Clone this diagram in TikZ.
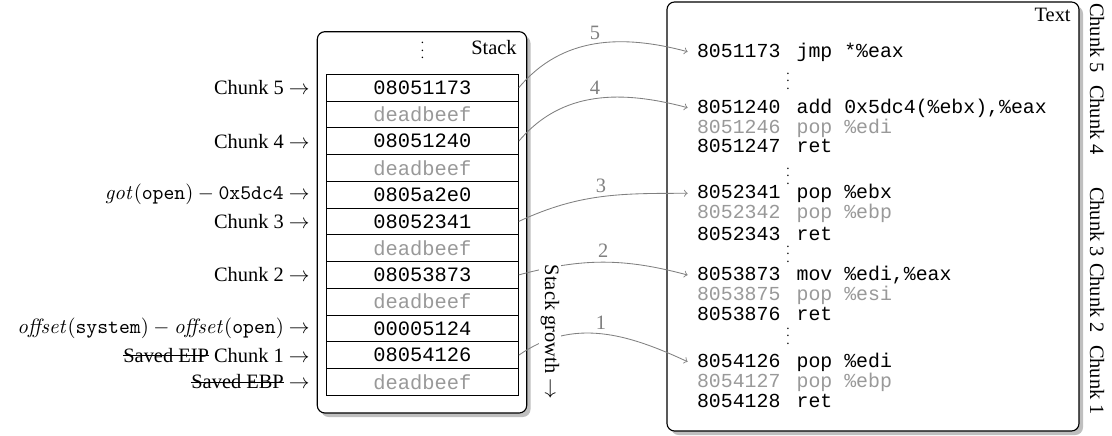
\documentclass[tikz,border=0pt]{standalone}
\usepackage[no-math]{fontspec}
\setmainfont{Liberation Serif}
\newfontfamily\cour{Liberation Mono}
\newcommand\mystrike[1]{\setbox0\hbox{#1}\rlap{\rule[0.32em]{\wd0}{0.45pt}}\box0\relax}
\newcommand\cgap{\hspace{8.6pt}}
\newcommand\myvdots{\vbox{\baselineskip4pt\lineskiplimit0pt\hbox{.}\hbox{.}\hbox{.}}}
\usetikzlibrary{arrows.meta}
\begin{document}
\begin{tikzpicture}[x=0.529pt,y=0.529pt,
  every node/.append style={font=\fontsize{10.8}{13}\selectfont},
  cell/.style={draw=black, line width=0.5pt, minimum width=101.4pt, minimum height=14.15pt, inner sep=0pt, font=\fontsize{10.8}{13}\cour, anchor=center},
  junk/.style={cell, text=black!40},
  lbl/.style={anchor=east, inner sep=0pt},
  code/.style={anchor=base west, inner xsep=4.8pt, inner ysep=0pt, font=\fontsize{10.5}{13}\cour},
  codeg/.style={code, text=black!40},
  dots/.style={inner sep=0pt, font=\scriptsize},
  conn/.style={draw=black!50, line width=0.45pt, -to},
  num/.style={text=black!50, inner sep=2pt},
  chunk/.style={rotate=-90, inner sep=0pt},
  box/.style={draw=black, line width=0.6pt, fill=white, rounded corners=4pt},
  shadowbox/.style={fill=black!25, rounded corners=4pt},
]
\useasboundingbox (0,0) rectangle (1112,435);

% Stack box
\fill[shadowbox] (321,18) rectangle (530.5,399.3);
\draw[box] (317.3,22) rectangle (526.7,403.3);
\node[dots] (sdots) at (422.5,384.5) {\myvdots};
\node[anchor=east, inner sep=0pt] (stacklbl) at (517,387) {Stack};

% Text box
\fill[shadowbox] (671,0) rectangle (1083,429);
\draw[box] (667,4) rectangle (1079,433);
\node[anchor=east, inner sep=0pt] (textlbl) at (1071,420) {Text};

% cells
\node[cell] (c1) at (422.5,347.3) {08051173};
\node[junk] (c2) at (422.5,320.6) {deadbeef};
\node[cell] (c3) at (422.5,293.8) {08051240};
\node[junk] (c4) at (422.5,267.1) {deadbeef};
\node[cell] (c5) at (422.5,240.3) {0805a2e0};
\node[cell] (c6) at (422.5,213.6) {08052341};
\node[junk] (c7) at (422.5,186.8) {deadbeef};
\node[cell] (c8) at (422.5,160.1) {08053873};
\node[junk] (c9) at (422.5,133.3) {deadbeef};
\node[cell] (c10) at (422.5,106.6) {00005124};
\node[cell] (c11) at (422.5,79.8) {08054126};
\node[junk] (c12) at (422.5,53.1) {deadbeef};

% left labels
\node[lbl] (l1) at (310,347.3) {Chunk 5 $\rightarrow$};
\node[lbl] (l3) at (310,293.8) {Chunk 4 $\rightarrow$};
\node[lbl] (l5) at (310,240.3) {$\mathit{got}(\mathtt{open}) - \mathtt{0x5dc4}$ $\rightarrow$};
\node[lbl] (l6) at (310,213.6) {Chunk 3 $\rightarrow$};
\node[lbl] (l8) at (310,160.1) {Chunk 2 $\rightarrow$};
\node[lbl] (l10) at (310,106.6) {$\mathit{offset}(\mathtt{system}) - \mathit{offset}(\mathtt{open})$ $\rightarrow$};
\node[lbl] (l11) at (310,79.8) {\mystrike{Saved EIP} Chunk 1 $\rightarrow$};
\node[lbl] (l12) at (310,53.1) {\mystrike{Saved EBP} $\rightarrow$};

% code lines
\node[code] (t5a) at (687.6,377.8) {8051173\cgap jmp *\%eax};
\node[dots] (d1) at (788,354) {\myvdots};
\node[code] (t4a) at (687.6,321.8) {8051240\cgap add 0x5dc4(\%ebx),\%eax};
\node[codeg] (t4b) at (687.6,301.2) {8051246\cgap pop \%edi};
\node[code] (t4c) at (687.6,282.8) {8051247\cgap ret};
\node[dots] (d2) at (788,259) {\myvdots};
\node[code] (t3a) at (687.6,236.2) {8052341\cgap pop \%ebx};
\node[codeg] (t3b) at (687.6,216) {8052342\cgap pop \%ebp};
\node[code] (t3c) at (687.6,194.5) {8052343\cgap ret};
\node[dots] (d3) at (788,181) {\myvdots};
\node[code] (t2a) at (687.6,154.5) {8053873\cgap mov \%edi,\%eax};
\node[codeg] (t2b) at (687.6,134.5) {8053875\cgap pop \%esi};
\node[code] (t2c) at (687.6,114.5) {8053876\cgap ret};
\node[dots] (d4) at (788,99) {\myvdots};
\node[code] (t1a) at (687.6,67.8) {8054126\cgap pop \%edi};
\node[codeg] (t1b) at (687.6,47.5) {8054127\cgap pop \%ebp};
\node[code] (t1c) at (687.6,27.8) {8054128\cgap ret};

% connectors
\draw[conn] (c1.east) to[out=50,in=165] node[num, above, pos=0.5] {5} ([yshift=2.9pt]t5a.base west);
\draw[conn] (c3.east) to[out=50,in=165] node[num, above, pos=0.5] {4} ([yshift=2.9pt]t4a.base west);
\draw[conn] (c6.east) to[out=25,in=180] node[num, above, pos=0.5] {3} ([yshift=2.9pt]t3a.base west);
\draw[conn] (c8.east) to[out=15,in=165] node[num, above, pos=0.5] {2} ([yshift=2.9pt]t2a.base west);
\draw[conn] (c11.east) to[out=35,in=155] node[num, above, pos=0.5] {1} ([yshift=2.9pt]t1a.base west);

% stack growth
\node[chunk, fill=white, inner sep=1pt] (growth) at (550,103) {Stack growth $\rightarrow$};

% right chunk labels
\node[chunk] (r5) at (1097,397) {Chunk 5};
\node[chunk] (r4) at (1097,315) {Chunk 4};
\node[chunk] (r3) at (1097,213) {Chunk 3};
\node[chunk] (r2) at (1097,137) {Chunk 2};
\node[chunk] (r1) at (1097,55) {Chunk 1};
\end{tikzpicture}
\end{document}
